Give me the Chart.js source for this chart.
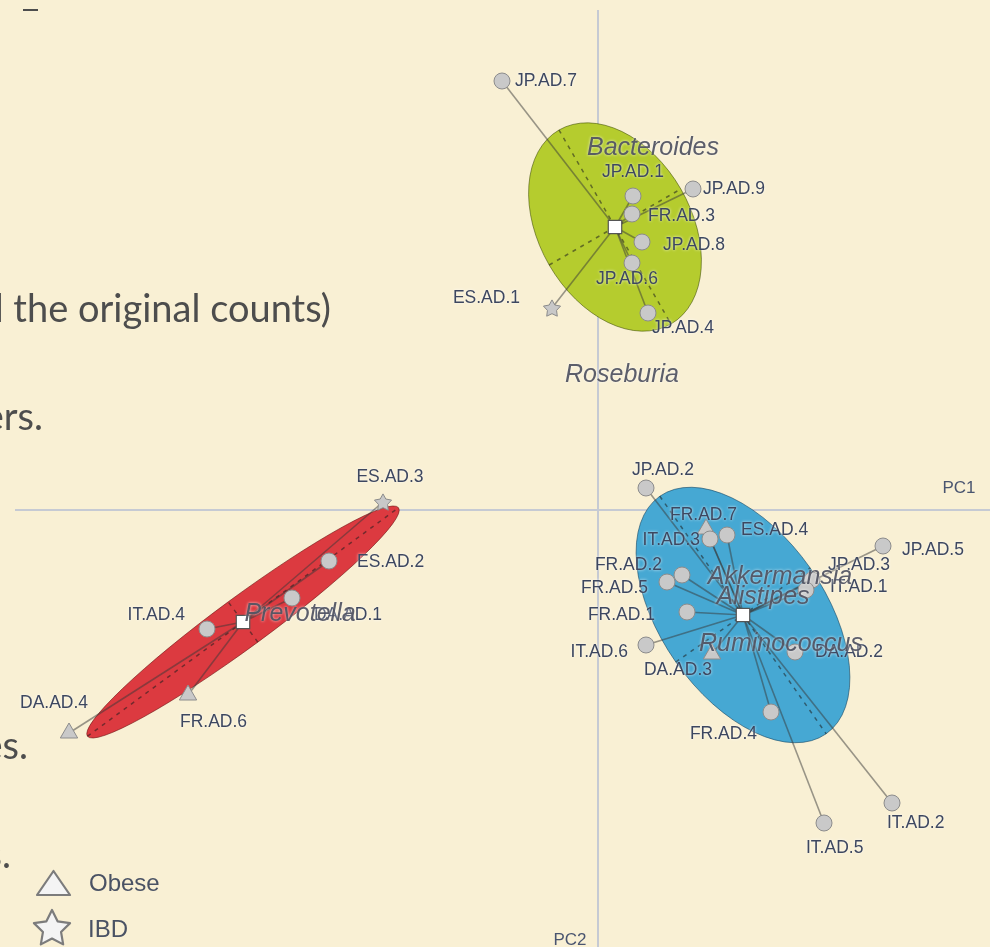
<!DOCTYPE html>
<html><head><meta charset="utf-8">
<script src="https://cdn.jsdelivr.net/npm/chart.js@4.4.1/dist/chart.umd.min.js"></script>
<style>
html,body{margin:0;padding:0;background:#f9f0d4;overflow:hidden}
#wrap{width:990px;height:947px;position:relative}
canvas{display:block}
</style></head><body><div id="wrap"><canvas id="c" width="990" height="947"></canvas></div>
<script>
// ---------------- data (PC coordinates) ----------------
const sampleNames   = ['JP.AD.7','JP.AD.1','JP.AD.9','FR.AD.3','JP.AD.8','JP.AD.6','JP.AD.4','ES.AD.1',
                       'JP.AD.2','FR.AD.7','IT.AD.3','ES.AD.4','JP.AD.5','JP.AD.3','IT.AD.1','FR.AD.2','FR.AD.5','FR.AD.1','IT.AD.6','DA.AD.3','DA.AD.2','FR.AD.4','IT.AD.5','IT.AD.2',
                       'ES.AD.3','ES.AD.2','DA.AD.1','IT.AD.4','FR.AD.6','DA.AD.4'];
const samplePC1     = [-0.96, 0.35, 0.95, 0.34, 0.44, 0.34, 0.50, -0.46,
                        0.48, 1.08, 1.12, 1.29, 2.85, 2.14, 2.08, 0.84, 0.69, 0.89, 0.48, 1.14, 1.97, 1.73, 2.26, 2.94,
                       -2.15,-2.69,-3.06,-3.91,-4.10,-5.29];
const samplePC2     = [ 4.29, 3.14, 3.21, 2.96, 2.68, 2.47, 1.97, 2.02,
                        0.22,-0.19,-0.29,-0.25,-0.36,-0.70,-0.80,-0.65,-0.72,-1.02,-1.35,-1.44,-1.42,-2.02,-3.13,-2.93,
                        0.08,-0.51,-0.88,-1.19,-1.85,-2.23];
const sampleCluster = [0,0,0,0,0,0,0,0, 2,2,2,2,2,2,2,2,2,2,2,2,2,2,2,2, 1,1,1,1,1,1];
const sampleStatus  = ['lean','lean','lean','lean','lean','lean','lean','IBD',
                       'lean','Obese','lean','lean','lean','lean','lean','lean','lean','lean','lean','Obese','lean','lean','lean','lean',
                       'IBD','lean','lean','lean','Obese','Obese'];

const clusterNames     = ['Bacteroides','Prevotella','Ruminococcus'];
const clusterCenterPC1 = [0.17, -3.55, 1.45];
const clusterCenterPC2 = [2.83, -1.12, -1.05];
const ellipseSemiMajor = [1.12, 1.93, 1.45];
const ellipseSemiMinor = [0.76, 0.25, 0.82];
const ellipseAngleDeg  = [-60, 36.3, -55];

const taxaNames = ['Bacteroides','Roseburia','Akkermansia','Alistipes','Ruminococcus','Prevotella'];
const taxaPC1   = [0.55, 0.24, 1.82, 1.65, 1.83, -2.98];
const taxaPC2   = [3.62, 1.35, -0.67, -0.87, -1.34, -1.04];

const axisTitles   = ['PC1','PC2'];
const legendLabels = ['Obese','IBD'];
const slideLines   = ['l the original counts)','ers.','es.','s.'];

// ---------------- layout / style ----------------
const BG = '#f9f0d4';
const clusterFill   = ['#b5cc2e','#dc3a40','#46a8d3'];
const clusterStroke = ['rgba(70,85,10,0.6)','rgba(110,20,20,0.6)','rgba(20,70,100,0.6)'];
// label offsets in pixels: [dx, dy, align]
const labelLayout = {
 'JP.AD.7':[13,0,'left'],'JP.AD.1':[0,-24,'center'],'JP.AD.9':[10,0,'left'],'FR.AD.3':[16,2,'left'],
 'JP.AD.8':[21,3,'left'],'JP.AD.6':[-5,16,'center'],'JP.AD.4':[4,15,'left'],'ES.AD.1':[-32,-10,'right'],
 'JP.AD.2':[-14,-18,'left'],'FR.AD.7':[-36,-14,'left'],'IT.AD.3':[-10,1,'right'],'ES.AD.4':[14,-5,'left'],
 'JP.AD.5':[19,4,'left'],'JP.AD.3':[16,-15,'left'],'IT.AD.1':[24,-3,'left'],'FR.AD.2':[-20,-10,'right'],
 'FR.AD.5':[-19,6,'right'],'FR.AD.1':[-32,3,'right'],'IT.AD.6':[-18,7,'right'],'DA.AD.3':[0,16,'right'],
 'DA.AD.2':[20,0,'left'],'FR.AD.4':[-14,22,'right'],'IT.AD.5':[-18,25,'left'],'IT.AD.2':[-5,20,'left'],
 'ES.AD.3':[7,-25,'center'],'ES.AD.2':[28,1,'left'],'DA.AD.1':[90,17,'right'],'IT.AD.4':[-22,-14,'right'],
 'FR.AD.6':[-8,27,'left'],'DA.AD.4':[-49,-30,'left']
};

function starPath(g,cx,cy,R,r){
  g.beginPath();
  for(let i=0;i<10;i++){
    const ang=-Math.PI/2+i*Math.PI/5, rad=i%2?r:R;
    g.lineTo(cx+rad*Math.cos(ang), cy+rad*Math.sin(ang));
  }
  g.closePath();
}
function makeStar(R,r,fill,stroke,lw){
  const s=Math.ceil((R+lw+1)*2);
  const cv=document.createElement('canvas'); cv.width=s; cv.height=s;
  const g=cv.getContext('2d');
  starPath(g,s/2,s/2+R*0.1,R,r);
  g.fillStyle=fill; g.fill(); g.lineJoin='round'; g.lineWidth=lw; g.strokeStyle=stroke; g.stroke();
  return cv;
}
const starImg = makeStar(9,4.8,'#c8c8c8','#8a8a8a',1);

// ---------------- datasets ----------------
const pts = sampleNames.map((n,i)=>({x:samplePC1[i], y:samplePC2[i]}));
const datasets = [];
datasets.push({
  label:'samples', data:pts, order:0,
  pointStyle: sampleStatus.map(s=> s==='Obese'?'triangle':(s==='IBD'?starImg:'circle')),
  pointRadius: sampleStatus.map(s=> s==='Obese'?10:8),
  backgroundColor:'#c9c9c9', borderColor:'#8c8c8c', borderWidth:1
});
datasets.push({
  label:'centers', order:1,
  data: clusterNames.map((c,k)=>({x:clusterCenterPC1[k], y:clusterCenterPC2[k]})),
  pointStyle:'rect', pointRadius:9.5, backgroundColor:'#ffffff', borderColor:'#555', borderWidth:1.2
});
// spider lines centre -> sample
sampleNames.forEach((n,i)=>{
  const k=sampleCluster[i];
  datasets.push({
    label:'link '+n, order:10, showLine:true, pointRadius:0,
    data:[{x:clusterCenterPC1[k],y:clusterCenterPC2[k]}, pts[i]],
    borderColor:'rgba(55,55,55,0.5)', borderWidth:1.6
  });
});
// ellipse axes (dashed)
clusterNames.forEach((c,k)=>{
  const t=ellipseAngleDeg[k]*Math.PI/180, cx=clusterCenterPC1[k], cy=clusterCenterPC2[k];
  const a=ellipseSemiMajor[k], b=ellipseSemiMinor[k];
  const ax=[{x:cx-a*Math.cos(t),y:cy-a*Math.sin(t)},{x:cx+a*Math.cos(t),y:cy+a*Math.sin(t)}];
  const bx=[{x:cx+b*Math.sin(t),y:cy-b*Math.cos(t)},{x:cx-b*Math.sin(t),y:cy+b*Math.cos(t)}];
  [ax,bx].forEach(d=>datasets.push({label:'axis '+c, order:11, showLine:true, pointRadius:0, data:d,
    borderColor:'rgba(30,30,30,0.55)', borderWidth:1.5, borderDash:[4,5]}));
});

// ---------------- plugin ----------------
const deco = {
  id:'deco',
  beforeDraw(chart){
    const g=chart.ctx;
    g.save(); g.fillStyle=BG; g.fillRect(0,0,chart.width,chart.height);
    // slide text fragments
    g.fillStyle='#4d4d4d'; g.font='38px Lato'; g.textAlign='right'; g.textBaseline='alphabetic';
    g.fillText(slideLines[0],331,322);
    g.fillText(slideLines[1],43,430);
    g.fillText(slideLines[2],28,759);
    g.fillText(slideLines[3],11,868);
    g.fillRect(23,9,15,2);
    g.restore();
  },
  beforeDatasetsDraw(chart){
    const g=chart.ctx, xs=chart.scales.x, ys=chart.scales.y;
    const x0=xs.getPixelForValue(0), y0=ys.getPixelForValue(0);
    const ppu=xs.getPixelForValue(1)-x0;
    g.save();
    g.strokeStyle='#c6cad3'; g.lineWidth=2;
    g.beginPath(); g.moveTo(15,y0); g.lineTo(chart.width,y0); g.stroke();
    g.beginPath(); g.moveTo(x0,10); g.lineTo(x0,chart.height); g.stroke();
    clusterNames.forEach((c,k)=>{
      const cx=xs.getPixelForValue(clusterCenterPC1[k]), cy=ys.getPixelForValue(clusterCenterPC2[k]);
      g.beginPath();
      g.ellipse(cx,cy,ellipseSemiMajor[k]*ppu,ellipseSemiMinor[k]*ppu,-ellipseAngleDeg[k]*Math.PI/180,0,Math.PI*2);
      g.fillStyle=clusterFill[k]; g.fill();
      g.strokeStyle=clusterStroke[k]; g.lineWidth=1; g.stroke();
    });
    g.restore();
  },
  afterDatasetsDraw(chart){
    const g=chart.ctx, xs=chart.scales.x, ys=chart.scales.y;
    g.save();
    g.textBaseline='middle';
    g.shadowColor='rgba(255,255,255,0.85)'; g.shadowBlur=3;
    g.font='17.5px "Liberation Sans", Arial, sans-serif';
    g.fillStyle='#3d4760';
    sampleNames.forEach((n,i)=>{
      const L=labelLayout[n]||[10,0,'left'];
      g.textAlign=L[2];
      g.fillText(n, xs.getPixelForValue(samplePC1[i])+L[0], ys.getPixelForValue(samplePC2[i])+L[1]);
    });
    g.font='italic 25px "Liberation Sans", Arial, sans-serif';
    g.textAlign='center';
    g.fillStyle='rgba(78,80,95,0.92)';
    taxaNames.forEach((n,i)=>{
      g.fillText(n, xs.getPixelForValue(taxaPC1[i]), ys.getPixelForValue(taxaPC2[i]));
    });
    // axis titles
    g.shadowBlur=0;
    g.font='17px "Liberation Sans", Arial, sans-serif'; g.fillStyle='#4a5570';
    g.fillText(axisTitles[0], 959, 488);
    g.fillText(axisTitles[1], 570, 940);
    // legend
    g.lineJoin='round'; g.lineWidth=2.2; g.strokeStyle='#7c7c7c'; g.fillStyle='#f4f4f4';
    g.beginPath(); g.moveTo(53.5,871); g.lineTo(70,895); g.lineTo(37,895); g.closePath(); g.fill(); g.stroke();
    starPath(g,52,929,19,9.5); g.fill(); g.stroke();
    g.font='24px "Liberation Sans", Arial, sans-serif'; g.fillStyle='#4a5264'; g.textAlign='left';
    g.fillText(legendLabels[0], 89, 884);
    g.fillText(legendLabels[1], 88, 930);
    g.restore();
  }
};

new Chart(document.getElementById('c'), {
  type:'scatter',
  data:{datasets},
  options:{
    responsive:false, animation:false, events:[],
    layout:{padding:0, autoPadding:false},
    scales:{
      x:{type:'linear', min:-5.98, max:3.92, display:false},
      y:{type:'linear', min:-4.37, max:5.10, display:false}
    },
    plugins:{legend:{display:false}, tooltip:{enabled:false}}
  },
  plugins:[deco]
});
</script></body></html>
